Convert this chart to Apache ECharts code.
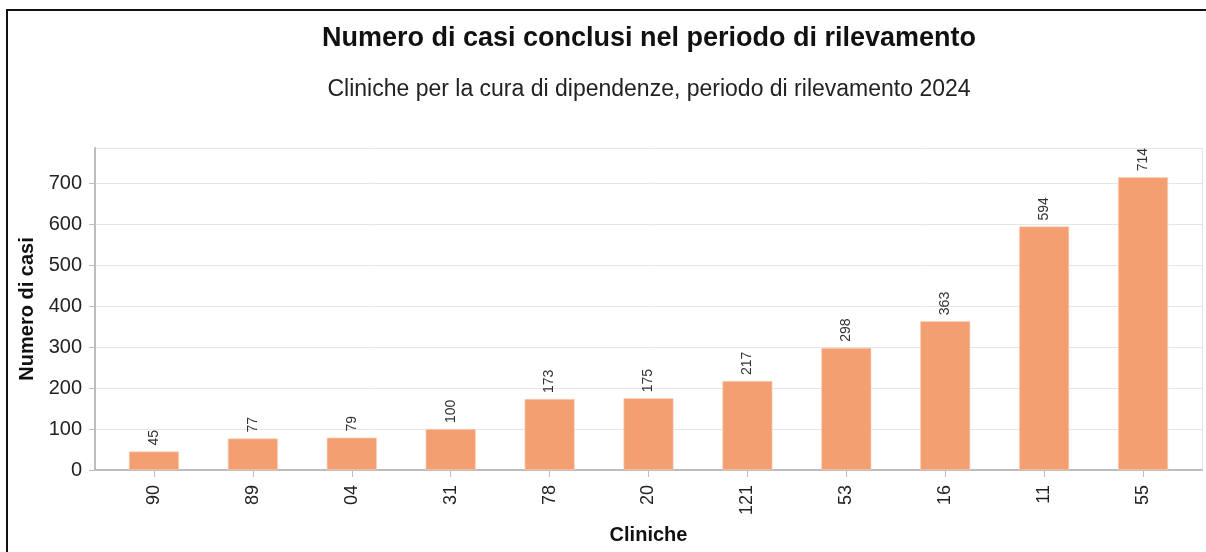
<!DOCTYPE html>
<html>
	<head>
		<meta charset="UTF-8" />
		<title>Numero di casi conclusi</title>
		<style>
			html, body { margin: 0; padding: 0; background: #fff; overflow: hidden; }
			#chart { position: absolute; left: 0; top: 0; width: 1206px; height: 552px; }
			#frame { position: absolute; left: 6px; top: 9px; width: 1300px; height: 700px; border: 2px solid #111; pointer-events: none; }
		</style>
	</head>
	<body>
		<div id="chart"></div>
		<div id="frame"></div>

		<script type="text/javascript" src="https://cdn.jsdelivr.net/npm/echarts@6/dist/echarts.min.js"></script>
		<script type="text/javascript">
			// dati
			const cliniche = ["90", "89", "04", "31", "78", "20", "121", "53", "16", "11", "55"];
			const casi = [45, 77, 79, 100, 173, 175, 217, 298, 363, 594, 714];
			const yMax = 785.4;

			const font = "Liberation Sans, Arial, sans-serif";
			const axisGray = "#bdbdbd";

			const chart = echarts.init(document.getElementById("chart"));
			chart.setOption({
				animation: false,
				textStyle: { fontFamily: font },
				title: [{
					text: "Numero di casi conclusi nel periodo di rilevamento",
					left: 644, textAlign: "center", top: 20,
					textStyle: { fontSize: 27, fontWeight: "bold", color: "#111", fontFamily: font }
				}, {
					text: "Cliniche per la cura di dipendenze, periodo di rilevamento 2024",
					left: 644, textAlign: "center", top: 73,
					textStyle: { fontSize: 23, fontWeight: "normal", color: "#222", fontFamily: font }
				}],
				// grid 0: assi e griglia, grid 1: barre (con margine interno)
				grid: [
					{ left: 95, right: 4, top: 148, bottom: 82, outerBoundsMode: "none" },
					{ left: 104.5, right: 13.5, top: 148, bottom: 82, outerBoundsMode: "none" }
				],
				xAxis: [{
					gridIndex: 0, type: "value", min: 0, max: 1, interval: 1,
					axisLine: { show: true, onZero: false, lineStyle: { color: axisGray, width: 2 } },
					axisTick: { show: false }, axisLabel: { show: false },
					splitLine: { show: true, lineStyle: { color: "#e6e6e6", width: 1 } }
				}, {
					gridIndex: 1, type: "category", data: cliniche,
					name: "Cliniche", nameLocation: "middle", nameGap: 55,
					nameTextStyle: { fontSize: 20, fontWeight: "bold", color: "#111" },
					axisLine: { show: false },
					axisTick: { show: true, alignWithLabel: true, length: 7, lineStyle: { color: axisGray, width: 1 } },
					axisLabel: { rotate: 90, fontSize: 18, color: "#222", margin: 15 },
					splitLine: { show: false }
				}],
				yAxis: [{
					gridIndex: 0, type: "value", min: 0, max: yMax, interval: 100,
					name: "Numero di casi", nameLocation: "middle", nameGap: 53,
					nameTextStyle: { fontSize: 20, fontWeight: "bold", color: "#111" },
					axisLine: { show: true, lineStyle: { color: axisGray, width: 2 } },
					axisTick: { show: true, length: 6, lineStyle: { color: axisGray, width: 1 } },
					axisLabel: { fontSize: 20, color: "#222", margin: 13, showMaxLabel: false },
					splitLine: { show: true, lineStyle: { color: "#e6e6e6", width: 1 } }
				}, {
					gridIndex: 1, type: "value", min: 0, max: yMax,
					show: false
				}],
				series: [{
					type: "bar",
					xAxisIndex: 1, yAxisIndex: 1,
					data: casi,
					barWidth: 50,
					itemStyle: { color: "#f49f72", borderColor: "#fbd3bd", borderWidth: 0.6 },
					label: {
						show: true, position: "top", rotate: 90,
						align: "left", verticalAlign: "middle", distance: 6,
						fontSize: 14, color: "#333"
					}
				}]
			});
		</script>
	</body>
</html>
